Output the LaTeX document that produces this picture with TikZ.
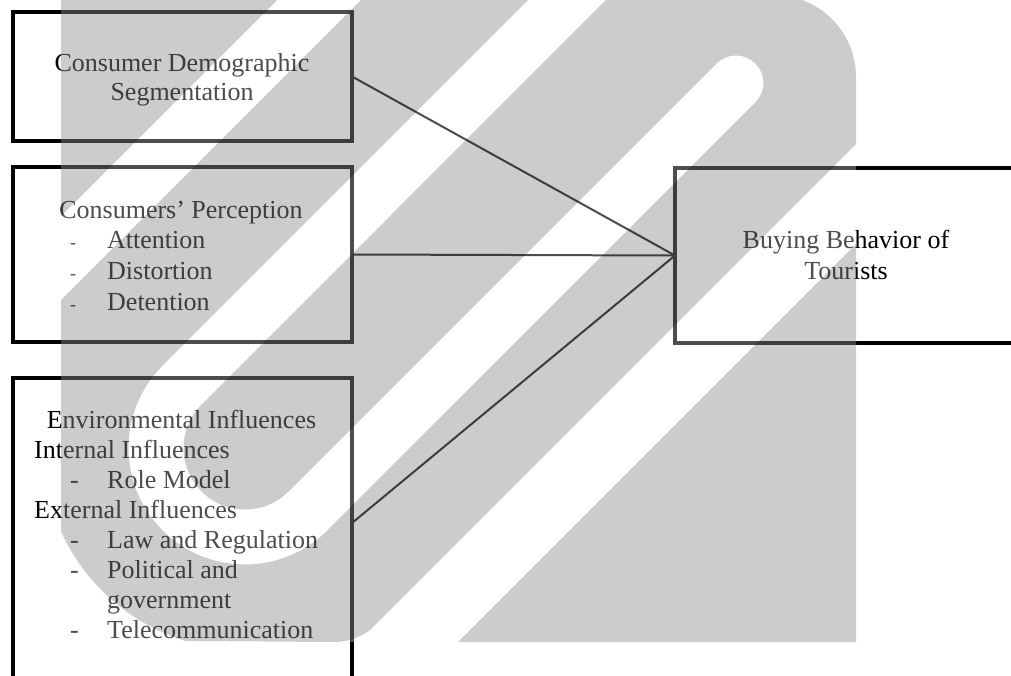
\documentclass[tikz,border=0pt]{standalone}
\usepackage{fontspec}
\setmainfont{Liberation Serif}
\usetikzlibrary{calc}
\begin{document}
\begin{tikzpicture}[x=1pt,y=-1pt,
  box/.style={draw=black, line width=4pt, rectangle, inner sep=0pt, outer sep=0pt},
  conn/.style={draw=black, line width=2pt},
  lbl/.style={inner sep=0pt, anchor=base, font=\fontsize{26}{30}\selectfont},
  item/.style={inner sep=0pt, anchor=base west, font=\fontsize{26}{30}\selectfont},
  smalldash/.style={inner sep=0pt, anchor=base west, font=\fontsize{18}{20}\selectfont},
  wmark/.style={fill=black, opacity=0.2},
  wveil/.style={fill=white, opacity=0.3}
]
\useasboundingbox (0,0) rectangle (1011,675);
\clip (0,0) rectangle (1011,675);
\fill[white] (0,0) rectangle (1011,675);

% boxes
\node[box, minimum width=339.5pt, minimum height=129pt] (b1) at (182.25,76.5) {};
\node[box, minimum width=339.5pt, minimum height=175pt] (b2) at (182.25,254.5) {};
\node[box, minimum width=339.5pt, minimum height=322pt] (b3) at (182.25,539) {};
\node[box, minimum width=355pt, minimum height=175pt] (b4) at (852.5,255.5) {};

% box 1
\node[lbl] (t1a) at (182,71) {Consumer Demographic};
\node[lbl] (t1b) at (182,100) {Segmentation};

% box 2
\node[lbl] (t2a) at (181,218) {Consumers’ Perception};
\node[smalldash] (d2b) at (70,248) {-};
\node[item] (t2b) at (107,248) {Attention};
\node[smalldash] (d2c) at (70,279) {-};
\node[item] (t2c) at (107,279) {Distortion};
\node[smalldash] (d2d) at (70,310) {-};
\node[item] (t2d) at (107,310) {Detention};

% box 3
\node[lbl] (t3a) at (181.5,428) {Environmental Influences};
\node[item] (t3b) at (34,458) {Internal Influences};
\node[item] (d3c) at (70,488) {-};
\node[item] (t3c) at (107,488) {Role Model};
\node[item] (t3d) at (34,518) {External Influences};
\node[item] (d3e) at (70,548) {-};
\node[item] (t3e) at (107,548) {Law and Regulation};
\node[item] (d3f) at (70,578) {-};
\node[item] (t3f) at (107,578) {Political and};
\node[item] (t3g) at (107,608) {government};
\node[item] (d3h) at (70,638) {-};
\node[item] (t3h) at (107,638) {Telecommunication};

% box 4
\node[lbl] (t4a) at (846,248) {Buying Behavior of};
\node[lbl] (t4b) at (846,279) {Tourists};

% connectors
\draw[conn] (b1.east) -- (b4.west);
\draw[conn] (b2.east) -- (b4.west);
\draw[conn] ([yshift=-145pt]b3.north east) -- (b4.west);

% watermark: veil and striped logo
\fill[wveil] (61,0) rectangle (856,642);
\begin{scope}
  \clip (61,-10) -- (61,531.4)
        arc[start angle=155.6, end angle=107.2, radius=202]
        -- (334.1,642)
        arc[start angle=90, end angle=45, radius=60]
        -- (420,580) -- (470,580) -- (420,642)
        -- (856,642) -- (856,77)
        arc[start angle=0, end angle=-100, radius=82]
        -- (759.8,-10) -- cycle;
  \begin{scope}[even odd rule]
  \clip (-100,-100) rectangle (1200,800)
        % diagonal gap, upper left
        (327,-50) -- (411,-50) -- (-39,400) -- (-123,400) -- cycle
        % diagonal gap, lower right
        (300,700) -- (400,700) -- (1100,0) -- (1000,0) -- cycle
        % hooked gap
        (578.1,-50) -- (162.6,365.6)
        arc[start angle=225, end angle=45, radius=116.5]
        -- (755.4,102.4)
        arc[start angle=45, end angle=-135, radius=27.5]
        -- (288.5,491.5)
        arc[start angle=45, end angle=225, radius=61.5]
        -- (655.9,-50) -- cycle;
  \fill[wmark] (0,-20) rectangle (1011,700);
  \end{scope}
\end{scope}
\end{tikzpicture}
\end{document}
